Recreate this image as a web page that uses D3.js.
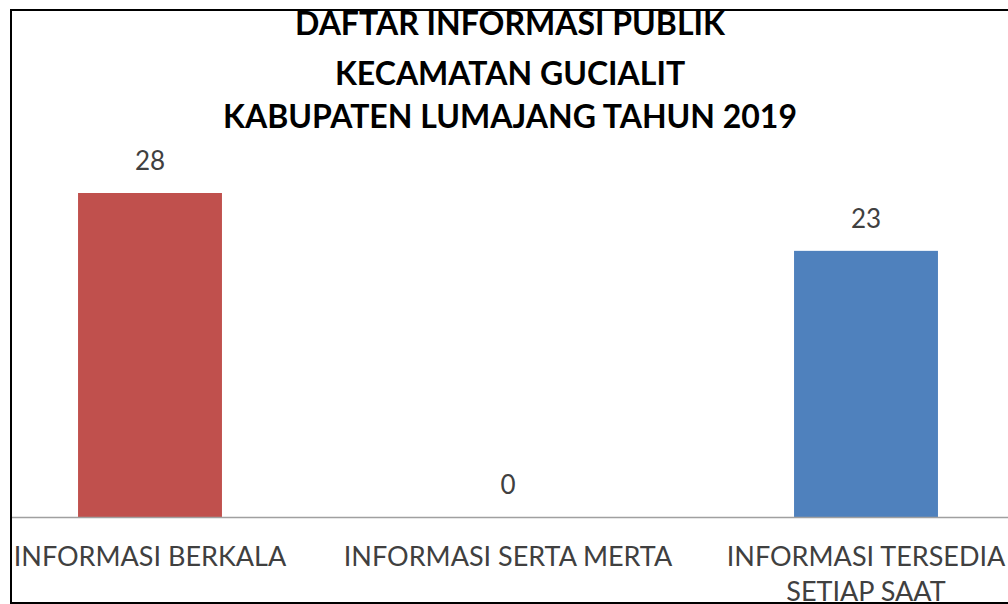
<!DOCTYPE html>
<html>
<head>
<meta charset="utf-8">
<script src="https://cdn.jsdelivr.net/npm/d3@7"></script>
<style>
  body { margin: 0; background: #fff; }
  text { font-family: Lato, "Open Sans", sans-serif; }
</style>
</head>
<body>
<div class="BarChart"></div>
<script>
// data
const categories = ["INFORMASI BERKALA", "INFORMASI SERTA MERTA", "INFORMASI TERSEDIA SETIAP SAAT"];
const categoryLines = [["INFORMASI BERKALA"], ["INFORMASI SERTA MERTA"], ["INFORMASI TERSEDIA", "SETIAP SAAT"]];
const values = [28, 0, 23];
const barColors = ["#C0504D", "#9BBB59", "#4F81BD"];
const titleLines = ["DAFTAR INFORMASI PUBLIK", "KECAMATAN GUCIALIT", "KABUPATEN LUMAJANG TAHUN 2019"];

/* Dimensions */
const width = 1008;
const height = 604;
const frame = { left: 11, top: 10, right: 1010, bottom: 603 };
const baseline = 517;

const svg = d3.select(".BarChart")
    .append("svg")
    .attr("width", width)
    .attr("height", height);

svg.append("clipPath")
    .attr("id", "frameClip")
    .append("rect")
    .attr("x", frame.left)
    .attr("y", frame.top)
    .attr("width", frame.right - frame.left)
    .attr("height", frame.bottom - frame.top);

const g = svg.append("g").attr("clip-path", "url(#frameClip)");

/* Scales */
const xScale = d3.scaleBand()
    .domain(categories)
    .range([-29, 1045])
    .paddingInner(0.598)
    .paddingOuter(0.299);

const yScale = d3.scaleLinear()
    .domain([0, 28])
    .range([baseline, 193]);

// bars
g.selectAll("rect.bar")
    .data(values)
    .enter()
    .append("rect")
    .attr("class", "bar")
    .attr("x", (d, i) => xScale(categories[i]))
    .attr("y", d => yScale(d))
    .attr("width", xScale.bandwidth())
    .attr("height", d => baseline - yScale(d))
    .attr("fill", (d, i) => barColors[i]);

// value labels
g.selectAll("text.value")
    .data(values)
    .enter()
    .append("text")
    .attr("class", "value")
    .attr("x", (d, i) => xScale(categories[i]) + xScale.bandwidth() / 2)
    .attr("y", d => yScale(d) - 23)
    .attr("text-anchor", "middle")
    .style("font-size", "26px")
    .style("fill", "#404040")
    .text(d => d);

/* Axis */
const xAxis = g.append("g")
    .attr("transform", `translate(0,${baseline})`)
    .call(d3.axisBottom(xScale).tickSize(0).tickFormat(""));
xAxis.select(".domain").attr("stroke", "#a0a0a0").attr("stroke-width", 1.5);

// category labels
const labels = g.selectAll("text.cat")
    .data(categories)
    .enter()
    .append("text")
    .attr("class", "cat")
    .attr("text-anchor", "middle")
    .style("font-size", "27px")
    .style("fill", "#404040");
labels.each(function (d, i) {
    const cx = xScale(d) + xScale.bandwidth() / 2;
    d3.select(this).selectAll("tspan")
        .data(categoryLines[i])
        .enter()
        .append("tspan")
        .attr("x", cx)
        .attr("y", (t, j) => 566 + j * 35)
        .text(t => t);
});

// Title
const titleY = [35, 85, 128];
g.selectAll("text.title")
    .data(titleLines)
    .enter()
    .append("text")
    .attr("class", "title")
    .attr("x", 510)
    .attr("y", (d, i) => titleY[i])
    .attr("text-anchor", "middle")
    .style("font-size", "32px")
    .style("font-weight", "bold")
    .style("fill", "#000")
    .text(d => d);

// frame
svg.append("rect")
    .attr("x", frame.left)
    .attr("y", frame.top)
    .attr("width", frame.right - frame.left)
    .attr("height", frame.bottom - frame.top)
    .attr("fill", "none")
    .attr("stroke", "#000")
    .attr("stroke-width", 2);
</script>
</body>
</html>
